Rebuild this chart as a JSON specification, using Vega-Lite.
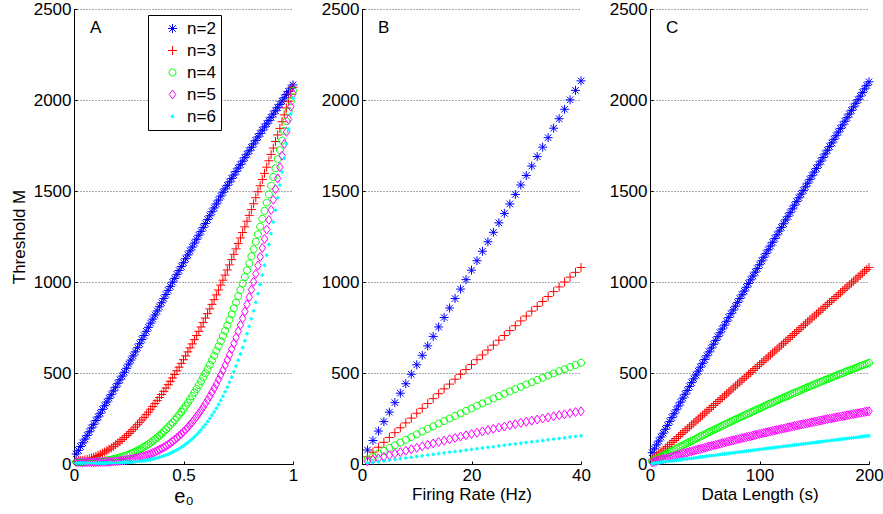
{"$schema":"https://vega.github.io/schema/vega-lite/v6.json",
"padding":{"left":10,"top":0,"right":0,"bottom":0},
"bounds":"flush",
"spacing":69,
"config":{
"font":"Liberation Sans",
"view":{"stroke":null},
"axis":{"labelFontSize":17,"titleFontSize":17,"titleFontWeight":"normal","labelColor":"#000","titleColor":"#000","domainColor":"#000","tickColor":"#000","tickSize":-3,"labelPadding":6,"gridColor":"#555","gridDash":[1,2],"labelFlush":false},
"axisX":{"grid":false,"labelPadding":6,"titlePadding":3},
"axisY":{"grid":true,"titlePadding":5,"format":"d"},
"title":{"fontSize":17,"fontWeight":"normal","color":"#000","anchor":"start","frame":"group","offset":0,"baseline":"alphabetic","dx":16,"dy":41},
"point":{"filled":false,"strokeWidth":1,"opacity":1,"size":100},
"legend":{"symbolSize":100}
},
"datasets":{
"a":[
{"n":2,"x":0.01,"y":55},{"n":2,"x":0.02,"y":75},{"n":2,"x":0.03,"y":96},{"n":2,"x":0.04,"y":116},{"n":2,"x":0.05,"y":137},{"n":2,"x":0.06,"y":157},{"n":2,"x":0.07,"y":177},{"n":2,"x":0.08,"y":198},{"n":2,"x":0.09,"y":218},{"n":2,"x":0.1,"y":239},
{"n":2,"x":0.11,"y":259},{"n":2,"x":0.12,"y":279},{"n":2,"x":0.13,"y":300},{"n":2,"x":0.14,"y":320},{"n":2,"x":0.15,"y":341},{"n":2,"x":0.16,"y":361},{"n":2,"x":0.17,"y":381},{"n":2,"x":0.18,"y":402},{"n":2,"x":0.19,"y":422},{"n":2,"x":0.2,"y":443},
{"n":2,"x":0.21,"y":463},{"n":2,"x":0.22,"y":483},{"n":2,"x":0.23,"y":504},{"n":2,"x":0.24,"y":526},{"n":2,"x":0.25,"y":549},{"n":2,"x":0.26,"y":571},{"n":2,"x":0.27,"y":594},{"n":2,"x":0.28,"y":616},{"n":2,"x":0.29,"y":639},{"n":2,"x":0.3,"y":661},
{"n":2,"x":0.31,"y":684},{"n":2,"x":0.32,"y":706},{"n":2,"x":0.33,"y":729},{"n":2,"x":0.34,"y":751},{"n":2,"x":0.35,"y":774},{"n":2,"x":0.36,"y":796},{"n":2,"x":0.37,"y":819},{"n":2,"x":0.38,"y":841},{"n":2,"x":0.39,"y":864},{"n":2,"x":0.4,"y":886},
{"n":2,"x":0.41,"y":909},{"n":2,"x":0.42,"y":931},{"n":2,"x":0.43,"y":954},{"n":2,"x":0.44,"y":976},{"n":2,"x":0.45,"y":999},{"n":2,"x":0.46,"y":1020},{"n":2,"x":0.47,"y":1042},{"n":2,"x":0.48,"y":1063},{"n":2,"x":0.49,"y":1085},{"n":2,"x":0.5,"y":1106},
{"n":2,"x":0.51,"y":1128},{"n":2,"x":0.52,"y":1149},{"n":2,"x":0.53,"y":1171},{"n":2,"x":0.54,"y":1192},{"n":2,"x":0.55,"y":1214},{"n":2,"x":0.56,"y":1235},{"n":2,"x":0.57,"y":1257},{"n":2,"x":0.58,"y":1278},{"n":2,"x":0.59,"y":1300},{"n":2,"x":0.6,"y":1321},
{"n":2,"x":0.61,"y":1343},{"n":2,"x":0.62,"y":1364},{"n":2,"x":0.63,"y":1386},{"n":2,"x":0.64,"y":1407},{"n":2,"x":0.65,"y":1429},{"n":2,"x":0.66,"y":1450},{"n":2,"x":0.67,"y":1472},{"n":2,"x":0.68,"y":1493},{"n":2,"x":0.69,"y":1512},{"n":2,"x":0.7,"y":1531},
{"n":2,"x":0.71,"y":1550},{"n":2,"x":0.72,"y":1569},{"n":2,"x":0.73,"y":1588},{"n":2,"x":0.74,"y":1607},{"n":2,"x":0.75,"y":1626},{"n":2,"x":0.76,"y":1645},{"n":2,"x":0.77,"y":1664},{"n":2,"x":0.78,"y":1683},{"n":2,"x":0.79,"y":1702},{"n":2,"x":0.8,"y":1721},
{"n":2,"x":0.81,"y":1740},{"n":2,"x":0.82,"y":1759},{"n":2,"x":0.83,"y":1778},{"n":2,"x":0.84,"y":1797},{"n":2,"x":0.85,"y":1816},{"n":2,"x":0.86,"y":1834},{"n":2,"x":0.87,"y":1852},{"n":2,"x":0.88,"y":1869},{"n":2,"x":0.89,"y":1887},{"n":2,"x":0.9,"y":1905},
{"n":2,"x":0.91,"y":1923},{"n":2,"x":0.92,"y":1941},{"n":2,"x":0.93,"y":1958},{"n":2,"x":0.94,"y":1976},{"n":2,"x":0.95,"y":1994},{"n":2,"x":0.96,"y":2012},{"n":2,"x":0.97,"y":2030},{"n":2,"x":0.98,"y":2047},{"n":2,"x":0.99,"y":2065},{"n":2,"x":1,"y":2083},
{"n":3,"x":0.01,"y":15},{"n":3,"x":0.02,"y":16},{"n":3,"x":0.03,"y":18},{"n":3,"x":0.04,"y":20},{"n":3,"x":0.05,"y":22},{"n":3,"x":0.06,"y":25},{"n":3,"x":0.07,"y":29},{"n":3,"x":0.08,"y":33},{"n":3,"x":0.09,"y":37},{"n":3,"x":0.1,"y":42},
{"n":3,"x":0.11,"y":47},{"n":3,"x":0.12,"y":53},{"n":3,"x":0.13,"y":59},{"n":3,"x":0.14,"y":66},{"n":3,"x":0.15,"y":73},{"n":3,"x":0.16,"y":81},{"n":3,"x":0.17,"y":88},{"n":3,"x":0.18,"y":97},{"n":3,"x":0.19,"y":106},{"n":3,"x":0.2,"y":115},
{"n":3,"x":0.21,"y":124},{"n":3,"x":0.22,"y":134},{"n":3,"x":0.23,"y":145},{"n":3,"x":0.24,"y":156},{"n":3,"x":0.25,"y":167},{"n":3,"x":0.26,"y":178},{"n":3,"x":0.27,"y":190},{"n":3,"x":0.28,"y":203},{"n":3,"x":0.29,"y":216},{"n":3,"x":0.3,"y":229},
{"n":3,"x":0.31,"y":242},{"n":3,"x":0.32,"y":256},{"n":3,"x":0.33,"y":271},{"n":3,"x":0.34,"y":285},{"n":3,"x":0.35,"y":301},{"n":3,"x":0.36,"y":316},{"n":3,"x":0.37,"y":332},{"n":3,"x":0.38,"y":348},{"n":3,"x":0.39,"y":365},{"n":3,"x":0.4,"y":382},
{"n":3,"x":0.41,"y":399},{"n":3,"x":0.42,"y":417},{"n":3,"x":0.43,"y":436},{"n":3,"x":0.44,"y":454},{"n":3,"x":0.45,"y":473},{"n":3,"x":0.46,"y":492},{"n":3,"x":0.47,"y":512},{"n":3,"x":0.48,"y":532},{"n":3,"x":0.49,"y":553},{"n":3,"x":0.5,"y":573},
{"n":3,"x":0.51,"y":594},{"n":3,"x":0.52,"y":616},{"n":3,"x":0.53,"y":638},{"n":3,"x":0.54,"y":660},{"n":3,"x":0.55,"y":683},{"n":3,"x":0.56,"y":706},{"n":3,"x":0.57,"y":729},{"n":3,"x":0.58,"y":753},{"n":3,"x":0.59,"y":777},{"n":3,"x":0.6,"y":802},
{"n":3,"x":0.61,"y":826},{"n":3,"x":0.62,"y":852},{"n":3,"x":0.63,"y":877},{"n":3,"x":0.64,"y":903},{"n":3,"x":0.65,"y":929},{"n":3,"x":0.66,"y":956},{"n":3,"x":0.67,"y":983},{"n":3,"x":0.68,"y":1010},{"n":3,"x":0.69,"y":1038},{"n":3,"x":0.7,"y":1066},
{"n":3,"x":0.71,"y":1094},{"n":3,"x":0.72,"y":1123},{"n":3,"x":0.73,"y":1152},{"n":3,"x":0.74,"y":1182},{"n":3,"x":0.75,"y":1212},{"n":3,"x":0.76,"y":1242},{"n":3,"x":0.77,"y":1272},{"n":3,"x":0.78,"y":1303},{"n":3,"x":0.79,"y":1334},{"n":3,"x":0.8,"y":1366},
{"n":3,"x":0.81,"y":1398},{"n":3,"x":0.82,"y":1430},{"n":3,"x":0.83,"y":1463},{"n":3,"x":0.84,"y":1496},{"n":3,"x":0.85,"y":1529},{"n":3,"x":0.86,"y":1563},{"n":3,"x":0.87,"y":1597},{"n":3,"x":0.88,"y":1631},{"n":3,"x":0.89,"y":1666},{"n":3,"x":0.9,"y":1701},
{"n":3,"x":0.91,"y":1736},{"n":3,"x":0.92,"y":1772},{"n":3,"x":0.93,"y":1808},{"n":3,"x":0.94,"y":1844},{"n":3,"x":0.95,"y":1881},{"n":3,"x":0.96,"y":1918},{"n":3,"x":0.97,"y":1956},{"n":3,"x":0.98,"y":1993},{"n":3,"x":0.99,"y":2032},{"n":3,"x":1,"y":2070},
{"n":4,"x":0.01,"y":10},{"n":4,"x":0.02,"y":10},{"n":4,"x":0.03,"y":10},{"n":4,"x":0.04,"y":10},{"n":4,"x":0.05,"y":10},{"n":4,"x":0.06,"y":11},{"n":4,"x":0.07,"y":11},{"n":4,"x":0.08,"y":12},{"n":4,"x":0.09,"y":12},{"n":4,"x":0.1,"y":13},
{"n":4,"x":0.11,"y":14},{"n":4,"x":0.12,"y":15},{"n":4,"x":0.13,"y":17},{"n":4,"x":0.14,"y":18},{"n":4,"x":0.15,"y":20},{"n":4,"x":0.16,"y":22},{"n":4,"x":0.17,"y":24},{"n":4,"x":0.18,"y":27},{"n":4,"x":0.19,"y":30},{"n":4,"x":0.2,"y":33},
{"n":4,"x":0.21,"y":36},{"n":4,"x":0.22,"y":39},{"n":4,"x":0.23,"y":43},{"n":4,"x":0.24,"y":48},{"n":4,"x":0.25,"y":52},{"n":4,"x":0.26,"y":57},{"n":4,"x":0.27,"y":62},{"n":4,"x":0.28,"y":68},{"n":4,"x":0.29,"y":74},{"n":4,"x":0.3,"y":80},
{"n":4,"x":0.31,"y":87},{"n":4,"x":0.32,"y":94},{"n":4,"x":0.33,"y":102},{"n":4,"x":0.34,"y":109},{"n":4,"x":0.35,"y":118},{"n":4,"x":0.36,"y":127},{"n":4,"x":0.37,"y":136},{"n":4,"x":0.38,"y":146},{"n":4,"x":0.39,"y":156},{"n":4,"x":0.4,"y":167},
{"n":4,"x":0.41,"y":178},{"n":4,"x":0.42,"y":190},{"n":4,"x":0.43,"y":202},{"n":4,"x":0.44,"y":215},{"n":4,"x":0.45,"y":228},{"n":4,"x":0.46,"y":242},{"n":4,"x":0.47,"y":256},{"n":4,"x":0.48,"y":271},{"n":4,"x":0.49,"y":287},{"n":4,"x":0.5,"y":303},
{"n":4,"x":0.51,"y":320},{"n":4,"x":0.52,"y":337},{"n":4,"x":0.53,"y":355},{"n":4,"x":0.54,"y":373},{"n":4,"x":0.55,"y":393},{"n":4,"x":0.56,"y":412},{"n":4,"x":0.57,"y":433},{"n":4,"x":0.58,"y":454},{"n":4,"x":0.59,"y":476},{"n":4,"x":0.6,"y":498},
{"n":4,"x":0.61,"y":521},{"n":4,"x":0.62,"y":545},{"n":4,"x":0.63,"y":569},{"n":4,"x":0.64,"y":595},{"n":4,"x":0.65,"y":621},{"n":4,"x":0.66,"y":647},{"n":4,"x":0.67,"y":675},{"n":4,"x":0.68,"y":703},{"n":4,"x":0.69,"y":732},{"n":4,"x":0.7,"y":761},
{"n":4,"x":0.71,"y":792},{"n":4,"x":0.72,"y":823},{"n":4,"x":0.73,"y":855},{"n":4,"x":0.74,"y":888},{"n":4,"x":0.75,"y":922},{"n":4,"x":0.76,"y":956},{"n":4,"x":0.77,"y":991},{"n":4,"x":0.78,"y":1027},{"n":4,"x":0.79,"y":1064},{"n":4,"x":0.8,"y":1102},
{"n":4,"x":0.81,"y":1141},{"n":4,"x":0.82,"y":1180},{"n":4,"x":0.83,"y":1221},{"n":4,"x":0.84,"y":1262},{"n":4,"x":0.85,"y":1304},{"n":4,"x":0.86,"y":1347},{"n":4,"x":0.87,"y":1391},{"n":4,"x":0.88,"y":1436},{"n":4,"x":0.89,"y":1482},{"n":4,"x":0.9,"y":1529},
{"n":4,"x":0.91,"y":1577},{"n":4,"x":0.92,"y":1625},{"n":4,"x":0.93,"y":1675},{"n":4,"x":0.94,"y":1725},{"n":4,"x":0.95,"y":1777},{"n":4,"x":0.96,"y":1830},{"n":4,"x":0.97,"y":1883},{"n":4,"x":0.98,"y":1938},{"n":4,"x":0.99,"y":1993},{"n":4,"x":1,"y":2050},
{"n":5,"x":0.01,"y":10},{"n":5,"x":0.02,"y":10},{"n":5,"x":0.03,"y":10},{"n":5,"x":0.04,"y":10},{"n":5,"x":0.05,"y":10},{"n":5,"x":0.06,"y":10},{"n":5,"x":0.07,"y":10},{"n":5,"x":0.08,"y":10},{"n":5,"x":0.09,"y":10},{"n":5,"x":0.1,"y":10},
{"n":5,"x":0.11,"y":11},{"n":5,"x":0.12,"y":11},{"n":5,"x":0.13,"y":11},{"n":5,"x":0.14,"y":12},{"n":5,"x":0.15,"y":12},{"n":5,"x":0.16,"y":13},{"n":5,"x":0.17,"y":13},{"n":5,"x":0.18,"y":14},{"n":5,"x":0.19,"y":15},{"n":5,"x":0.2,"y":16},
{"n":5,"x":0.21,"y":17},{"n":5,"x":0.22,"y":19},{"n":5,"x":0.23,"y":20},{"n":5,"x":0.24,"y":22},{"n":5,"x":0.25,"y":24},{"n":5,"x":0.26,"y":26},{"n":5,"x":0.27,"y":28},{"n":5,"x":0.28,"y":31},{"n":5,"x":0.29,"y":34},{"n":5,"x":0.3,"y":37},
{"n":5,"x":0.31,"y":40},{"n":5,"x":0.32,"y":43},{"n":5,"x":0.33,"y":47},{"n":5,"x":0.34,"y":52},{"n":5,"x":0.35,"y":56},{"n":5,"x":0.36,"y":61},{"n":5,"x":0.37,"y":66},{"n":5,"x":0.38,"y":72},{"n":5,"x":0.39,"y":78},{"n":5,"x":0.4,"y":85},
{"n":5,"x":0.41,"y":92},{"n":5,"x":0.42,"y":99},{"n":5,"x":0.43,"y":107},{"n":5,"x":0.44,"y":115},{"n":5,"x":0.45,"y":124},{"n":5,"x":0.46,"y":134},{"n":5,"x":0.47,"y":144},{"n":5,"x":0.48,"y":154},{"n":5,"x":0.49,"y":165},{"n":5,"x":0.5,"y":177},
{"n":5,"x":0.51,"y":189},{"n":5,"x":0.52,"y":202},{"n":5,"x":0.53,"y":216},{"n":5,"x":0.54,"y":230},{"n":5,"x":0.55,"y":245},{"n":5,"x":0.56,"y":261},{"n":5,"x":0.57,"y":278},{"n":5,"x":0.58,"y":295},{"n":5,"x":0.59,"y":313},{"n":5,"x":0.6,"y":332},
{"n":5,"x":0.61,"y":352},{"n":5,"x":0.62,"y":372},{"n":5,"x":0.63,"y":394},{"n":5,"x":0.64,"y":416},{"n":5,"x":0.65,"y":439},{"n":5,"x":0.66,"y":464},{"n":5,"x":0.67,"y":489},{"n":5,"x":0.68,"y":515},{"n":5,"x":0.69,"y":542},{"n":5,"x":0.7,"y":571},
{"n":5,"x":0.71,"y":600},{"n":5,"x":0.72,"y":631},{"n":5,"x":0.73,"y":662},{"n":5,"x":0.74,"y":695},{"n":5,"x":0.75,"y":729},{"n":5,"x":0.76,"y":764},{"n":5,"x":0.77,"y":800},{"n":5,"x":0.78,"y":838},{"n":5,"x":0.79,"y":877},{"n":5,"x":0.8,"y":917},
{"n":5,"x":0.81,"y":958},{"n":5,"x":0.82,"y":1001},{"n":5,"x":0.83,"y":1045},{"n":5,"x":0.84,"y":1091},{"n":5,"x":0.85,"y":1138},{"n":5,"x":0.86,"y":1187},{"n":5,"x":0.87,"y":1237},{"n":5,"x":0.88,"y":1288},{"n":5,"x":0.89,"y":1341},{"n":5,"x":0.9,"y":1396},
{"n":5,"x":0.91,"y":1452},{"n":5,"x":0.92,"y":1510},{"n":5,"x":0.93,"y":1569},{"n":5,"x":0.94,"y":1631},{"n":5,"x":0.95,"y":1694},{"n":5,"x":0.96,"y":1758},{"n":5,"x":0.97,"y":1825},{"n":5,"x":0.98,"y":1893},{"n":5,"x":0.99,"y":1963},{"n":5,"x":1,"y":2035},
{"n":6,"x":0.01,"y":5},{"n":6,"x":0.02,"y":5},{"n":6,"x":0.03,"y":5},{"n":6,"x":0.04,"y":5},{"n":6,"x":0.05,"y":5},{"n":6,"x":0.06,"y":5},{"n":6,"x":0.07,"y":5},{"n":6,"x":0.08,"y":5},{"n":6,"x":0.09,"y":5},{"n":6,"x":0.1,"y":5},
{"n":6,"x":0.11,"y":5},{"n":6,"x":0.12,"y":5},{"n":6,"x":0.13,"y":5},{"n":6,"x":0.14,"y":5},{"n":6,"x":0.15,"y":5},{"n":6,"x":0.16,"y":6},{"n":6,"x":0.17,"y":6},{"n":6,"x":0.18,"y":6},{"n":6,"x":0.19,"y":6},{"n":6,"x":0.2,"y":7},
{"n":6,"x":0.21,"y":7},{"n":6,"x":0.22,"y":8},{"n":6,"x":0.23,"y":8},{"n":6,"x":0.24,"y":9},{"n":6,"x":0.25,"y":9},{"n":6,"x":0.26,"y":10},{"n":6,"x":0.27,"y":11},{"n":6,"x":0.28,"y":12},{"n":6,"x":0.29,"y":14},{"n":6,"x":0.3,"y":15},
{"n":6,"x":0.31,"y":17},{"n":6,"x":0.32,"y":18},{"n":6,"x":0.33,"y":20},{"n":6,"x":0.34,"y":22},{"n":6,"x":0.35,"y":25},{"n":6,"x":0.36,"y":27},{"n":6,"x":0.37,"y":30},{"n":6,"x":0.38,"y":33},{"n":6,"x":0.39,"y":37},{"n":6,"x":0.4,"y":41},
{"n":6,"x":0.41,"y":45},{"n":6,"x":0.42,"y":49},{"n":6,"x":0.43,"y":54},{"n":6,"x":0.44,"y":59},{"n":6,"x":0.45,"y":65},{"n":6,"x":0.46,"y":71},{"n":6,"x":0.47,"y":77},{"n":6,"x":0.48,"y":84},{"n":6,"x":0.49,"y":92},{"n":6,"x":0.5,"y":100},
{"n":6,"x":0.51,"y":109},{"n":6,"x":0.52,"y":118},{"n":6,"x":0.53,"y":128},{"n":6,"x":0.54,"y":138},{"n":6,"x":0.55,"y":149},{"n":6,"x":0.56,"y":161},{"n":6,"x":0.57,"y":174},{"n":6,"x":0.58,"y":187},{"n":6,"x":0.59,"y":202},{"n":6,"x":0.6,"y":217},
{"n":6,"x":0.61,"y":233},{"n":6,"x":0.62,"y":250},{"n":6,"x":0.63,"y":268},{"n":6,"x":0.64,"y":286},{"n":6,"x":0.65,"y":306},{"n":6,"x":0.66,"y":327},{"n":6,"x":0.67,"y":349},{"n":6,"x":0.68,"y":372},{"n":6,"x":0.69,"y":397},{"n":6,"x":0.7,"y":422},
{"n":6,"x":0.71,"y":449},{"n":6,"x":0.72,"y":477},{"n":6,"x":0.73,"y":507},{"n":6,"x":0.74,"y":538},{"n":6,"x":0.75,"y":570},{"n":6,"x":0.76,"y":604},{"n":6,"x":0.77,"y":640},{"n":6,"x":0.78,"y":677},{"n":6,"x":0.79,"y":716},{"n":6,"x":0.8,"y":756},
{"n":6,"x":0.81,"y":798},{"n":6,"x":0.82,"y":842},{"n":6,"x":0.83,"y":888},{"n":6,"x":0.84,"y":936},{"n":6,"x":0.85,"y":986},{"n":6,"x":0.86,"y":1038},{"n":6,"x":0.87,"y":1092},{"n":6,"x":0.88,"y":1147},{"n":6,"x":0.89,"y":1206},{"n":6,"x":0.9,"y":1266},
{"n":6,"x":0.91,"y":1329},{"n":6,"x":0.92,"y":1394},{"n":6,"x":0.93,"y":1462},{"n":6,"x":0.94,"y":1532},{"n":6,"x":0.95,"y":1605},{"n":6,"x":0.96,"y":1680},{"n":6,"x":0.97,"y":1759},{"n":6,"x":0.98,"y":1840},{"n":6,"x":0.99,"y":1923},{"n":6,"x":1,"y":2010}
],
"b":[
{"n":2,"x":1,"y":77},{"n":2,"x":2,"y":129},{"n":2,"x":3,"y":181},{"n":2,"x":4,"y":233},{"n":2,"x":5,"y":285},{"n":2,"x":6,"y":337},{"n":2,"x":7,"y":389},{"n":2,"x":8,"y":441},{"n":2,"x":9,"y":493},{"n":2,"x":10,"y":545},
{"n":2,"x":11,"y":597},{"n":2,"x":12,"y":649},{"n":2,"x":13,"y":701},{"n":2,"x":14,"y":753},{"n":2,"x":15,"y":805},{"n":2,"x":16,"y":857},{"n":2,"x":17,"y":909},{"n":2,"x":18,"y":961},{"n":2,"x":19,"y":1013},{"n":2,"x":20,"y":1065},
{"n":2,"x":21,"y":1117},{"n":2,"x":22,"y":1169},{"n":2,"x":23,"y":1221},{"n":2,"x":24,"y":1273},{"n":2,"x":25,"y":1325},{"n":2,"x":26,"y":1377},{"n":2,"x":27,"y":1429},{"n":2,"x":28,"y":1481},{"n":2,"x":29,"y":1533},{"n":2,"x":30,"y":1585},
{"n":2,"x":31,"y":1637},{"n":2,"x":32,"y":1689},{"n":2,"x":33,"y":1741},{"n":2,"x":34,"y":1793},{"n":2,"x":35,"y":1845},{"n":2,"x":36,"y":1897},{"n":2,"x":37,"y":1949},{"n":2,"x":38,"y":2001},{"n":2,"x":39,"y":2053},{"n":2,"x":40,"y":2105},
{"n":3,"x":1,"y":39},{"n":3,"x":2,"y":65},{"n":3,"x":3,"y":92},{"n":3,"x":4,"y":119},{"n":3,"x":5,"y":146},{"n":3,"x":6,"y":172},{"n":3,"x":7,"y":199},{"n":3,"x":8,"y":226},{"n":3,"x":9,"y":252},{"n":3,"x":10,"y":279},
{"n":3,"x":11,"y":306},{"n":3,"x":12,"y":332},{"n":3,"x":13,"y":359},{"n":3,"x":14,"y":386},{"n":3,"x":15,"y":413},{"n":3,"x":16,"y":439},{"n":3,"x":17,"y":466},{"n":3,"x":18,"y":493},{"n":3,"x":19,"y":519},{"n":3,"x":20,"y":546},
{"n":3,"x":21,"y":573},{"n":3,"x":22,"y":599},{"n":3,"x":23,"y":626},{"n":3,"x":24,"y":653},{"n":3,"x":25,"y":680},{"n":3,"x":26,"y":706},{"n":3,"x":27,"y":733},{"n":3,"x":28,"y":760},{"n":3,"x":29,"y":786},{"n":3,"x":30,"y":813},
{"n":3,"x":31,"y":840},{"n":3,"x":32,"y":866},{"n":3,"x":33,"y":893},{"n":3,"x":34,"y":920},{"n":3,"x":35,"y":947},{"n":3,"x":36,"y":973},{"n":3,"x":37,"y":1000},{"n":3,"x":38,"y":1027},{"n":3,"x":39,"y":1053},{"n":3,"x":40,"y":1080},
{"n":4,"x":1,"y":25},{"n":4,"x":2,"y":41},{"n":4,"x":3,"y":57},{"n":4,"x":4,"y":72},{"n":4,"x":5,"y":88},{"n":4,"x":6,"y":103},{"n":4,"x":7,"y":118},{"n":4,"x":8,"y":133},{"n":4,"x":9,"y":148},{"n":4,"x":10,"y":163},
{"n":4,"x":11,"y":178},{"n":4,"x":12,"y":193},{"n":4,"x":13,"y":207},{"n":4,"x":14,"y":222},{"n":4,"x":15,"y":236},{"n":4,"x":16,"y":250},{"n":4,"x":17,"y":264},{"n":4,"x":18,"y":278},{"n":4,"x":19,"y":292},{"n":4,"x":20,"y":306},
{"n":4,"x":21,"y":320},{"n":4,"x":22,"y":333},{"n":4,"x":23,"y":346},{"n":4,"x":24,"y":360},{"n":4,"x":25,"y":373},{"n":4,"x":26,"y":386},{"n":4,"x":27,"y":399},{"n":4,"x":28,"y":412},{"n":4,"x":29,"y":424},{"n":4,"x":30,"y":437},
{"n":4,"x":31,"y":449},{"n":4,"x":32,"y":462},{"n":4,"x":33,"y":474},{"n":4,"x":34,"y":486},{"n":4,"x":35,"y":498},{"n":4,"x":36,"y":510},{"n":4,"x":37,"y":521},{"n":4,"x":38,"y":533},{"n":4,"x":39,"y":544},{"n":4,"x":40,"y":556},
{"n":5,"x":1,"y":14},{"n":5,"x":2,"y":23},{"n":5,"x":3,"y":31},{"n":5,"x":4,"y":40},{"n":5,"x":5,"y":48},{"n":5,"x":6,"y":57},{"n":5,"x":7,"y":65},{"n":5,"x":8,"y":73},{"n":5,"x":9,"y":81},{"n":5,"x":10,"y":89},
{"n":5,"x":11,"y":97},{"n":5,"x":12,"y":105},{"n":5,"x":13,"y":113},{"n":5,"x":14,"y":121},{"n":5,"x":15,"y":128},{"n":5,"x":16,"y":136},{"n":5,"x":17,"y":143},{"n":5,"x":18,"y":151},{"n":5,"x":19,"y":158},{"n":5,"x":20,"y":165},
{"n":5,"x":21,"y":172},{"n":5,"x":22,"y":179},{"n":5,"x":23,"y":186},{"n":5,"x":24,"y":193},{"n":5,"x":25,"y":200},{"n":5,"x":26,"y":206},{"n":5,"x":27,"y":213},{"n":5,"x":28,"y":219},{"n":5,"x":29,"y":226},{"n":5,"x":30,"y":232},
{"n":5,"x":31,"y":238},{"n":5,"x":32,"y":244},{"n":5,"x":33,"y":250},{"n":5,"x":34,"y":256},{"n":5,"x":35,"y":262},{"n":5,"x":36,"y":268},{"n":5,"x":37,"y":273},{"n":5,"x":38,"y":279},{"n":5,"x":39,"y":285},{"n":5,"x":40,"y":290},
{"n":6,"x":1,"y":5},{"n":6,"x":2,"y":9},{"n":6,"x":3,"y":13},{"n":6,"x":4,"y":17},{"n":6,"x":5,"y":21},{"n":6,"x":6,"y":25},{"n":6,"x":7,"y":29},{"n":6,"x":8,"y":33},{"n":6,"x":9,"y":37},{"n":6,"x":10,"y":41},
{"n":6,"x":11,"y":45},{"n":6,"x":12,"y":49},{"n":6,"x":13,"y":53},{"n":6,"x":14,"y":57},{"n":6,"x":15,"y":61},{"n":6,"x":16,"y":65},{"n":6,"x":17,"y":68},{"n":6,"x":18,"y":72},{"n":6,"x":19,"y":76},{"n":6,"x":20,"y":80},
{"n":6,"x":21,"y":84},{"n":6,"x":22,"y":88},{"n":6,"x":23,"y":92},{"n":6,"x":24,"y":95},{"n":6,"x":25,"y":99},{"n":6,"x":26,"y":103},{"n":6,"x":27,"y":107},{"n":6,"x":28,"y":110},{"n":6,"x":29,"y":114},{"n":6,"x":30,"y":118},
{"n":6,"x":31,"y":122},{"n":6,"x":32,"y":125},{"n":6,"x":33,"y":129},{"n":6,"x":34,"y":133},{"n":6,"x":35,"y":137},{"n":6,"x":36,"y":140},{"n":6,"x":37,"y":144},{"n":6,"x":38,"y":148},{"n":6,"x":39,"y":151},{"n":6,"x":40,"y":155}
],
"c":[
{"n":2,"x":2,"y":62},{"n":2,"x":4,"y":83},{"n":2,"x":6,"y":105},{"n":2,"x":8,"y":126},{"n":2,"x":10,"y":148},{"n":2,"x":12,"y":169},{"n":2,"x":14,"y":191},{"n":2,"x":16,"y":212},{"n":2,"x":18,"y":234},{"n":2,"x":20,"y":255},
{"n":2,"x":22,"y":276},{"n":2,"x":24,"y":298},{"n":2,"x":26,"y":319},{"n":2,"x":28,"y":340},{"n":2,"x":30,"y":362},{"n":2,"x":32,"y":383},{"n":2,"x":34,"y":404},{"n":2,"x":36,"y":426},{"n":2,"x":38,"y":447},{"n":2,"x":40,"y":468},
{"n":2,"x":42,"y":489},{"n":2,"x":44,"y":510},{"n":2,"x":46,"y":532},{"n":2,"x":48,"y":553},{"n":2,"x":50,"y":574},{"n":2,"x":52,"y":595},{"n":2,"x":54,"y":616},{"n":2,"x":56,"y":637},{"n":2,"x":58,"y":658},{"n":2,"x":60,"y":679},
{"n":2,"x":62,"y":700},{"n":2,"x":64,"y":721},{"n":2,"x":66,"y":742},{"n":2,"x":68,"y":763},{"n":2,"x":70,"y":784},{"n":2,"x":72,"y":805},{"n":2,"x":74,"y":826},{"n":2,"x":76,"y":846},{"n":2,"x":78,"y":867},{"n":2,"x":80,"y":888},
{"n":2,"x":82,"y":909},{"n":2,"x":84,"y":930},{"n":2,"x":86,"y":950},{"n":2,"x":88,"y":971},{"n":2,"x":90,"y":992},{"n":2,"x":92,"y":1012},{"n":2,"x":94,"y":1033},{"n":2,"x":96,"y":1054},{"n":2,"x":98,"y":1074},{"n":2,"x":100,"y":1095},
{"n":2,"x":102,"y":1116},{"n":2,"x":104,"y":1136},{"n":2,"x":106,"y":1157},{"n":2,"x":108,"y":1177},{"n":2,"x":110,"y":1198},{"n":2,"x":112,"y":1218},{"n":2,"x":114,"y":1239},{"n":2,"x":116,"y":1259},{"n":2,"x":118,"y":1280},{"n":2,"x":120,"y":1300},
{"n":2,"x":122,"y":1320},{"n":2,"x":124,"y":1341},{"n":2,"x":126,"y":1361},{"n":2,"x":128,"y":1381},{"n":2,"x":130,"y":1402},{"n":2,"x":132,"y":1422},{"n":2,"x":134,"y":1442},{"n":2,"x":136,"y":1463},{"n":2,"x":138,"y":1483},{"n":2,"x":140,"y":1503},
{"n":2,"x":142,"y":1523},{"n":2,"x":144,"y":1543},{"n":2,"x":146,"y":1564},{"n":2,"x":148,"y":1584},{"n":2,"x":150,"y":1604},{"n":2,"x":152,"y":1624},{"n":2,"x":154,"y":1644},{"n":2,"x":156,"y":1664},{"n":2,"x":158,"y":1684},{"n":2,"x":160,"y":1704},
{"n":2,"x":162,"y":1724},{"n":2,"x":164,"y":1744},{"n":2,"x":166,"y":1764},{"n":2,"x":168,"y":1784},{"n":2,"x":170,"y":1804},{"n":2,"x":172,"y":1824},{"n":2,"x":174,"y":1844},{"n":2,"x":176,"y":1863},{"n":2,"x":178,"y":1883},{"n":2,"x":180,"y":1903},
{"n":2,"x":182,"y":1923},{"n":2,"x":184,"y":1943},{"n":2,"x":186,"y":1962},{"n":2,"x":188,"y":1982},{"n":2,"x":190,"y":2002},{"n":2,"x":192,"y":2021},{"n":2,"x":194,"y":2041},{"n":2,"x":196,"y":2061},{"n":2,"x":198,"y":2080},{"n":2,"x":200,"y":2100},
{"n":3,"x":2,"y":23},{"n":3,"x":4,"y":33},{"n":3,"x":6,"y":44},{"n":3,"x":8,"y":55},{"n":3,"x":10,"y":65},{"n":3,"x":12,"y":76},{"n":3,"x":14,"y":87},{"n":3,"x":16,"y":97},{"n":3,"x":18,"y":108},{"n":3,"x":20,"y":119},
{"n":3,"x":22,"y":129},{"n":3,"x":24,"y":140},{"n":3,"x":26,"y":151},{"n":3,"x":28,"y":162},{"n":3,"x":30,"y":172},{"n":3,"x":32,"y":183},{"n":3,"x":34,"y":194},{"n":3,"x":36,"y":204},{"n":3,"x":38,"y":215},{"n":3,"x":40,"y":226},
{"n":3,"x":42,"y":236},{"n":3,"x":44,"y":247},{"n":3,"x":46,"y":258},{"n":3,"x":48,"y":268},{"n":3,"x":50,"y":279},{"n":3,"x":52,"y":290},{"n":3,"x":54,"y":300},{"n":3,"x":56,"y":311},{"n":3,"x":58,"y":322},{"n":3,"x":60,"y":332},
{"n":3,"x":62,"y":343},{"n":3,"x":64,"y":354},{"n":3,"x":66,"y":364},{"n":3,"x":68,"y":375},{"n":3,"x":70,"y":386},{"n":3,"x":72,"y":396},{"n":3,"x":74,"y":407},{"n":3,"x":76,"y":418},{"n":3,"x":78,"y":429},{"n":3,"x":80,"y":439},
{"n":3,"x":82,"y":450},{"n":3,"x":84,"y":461},{"n":3,"x":86,"y":471},{"n":3,"x":88,"y":482},{"n":3,"x":90,"y":493},{"n":3,"x":92,"y":503},{"n":3,"x":94,"y":514},{"n":3,"x":96,"y":525},{"n":3,"x":98,"y":535},{"n":3,"x":100,"y":546},
{"n":3,"x":102,"y":557},{"n":3,"x":104,"y":567},{"n":3,"x":106,"y":578},{"n":3,"x":108,"y":589},{"n":3,"x":110,"y":599},{"n":3,"x":112,"y":610},{"n":3,"x":114,"y":621},{"n":3,"x":116,"y":631},{"n":3,"x":118,"y":642},{"n":3,"x":120,"y":653},
{"n":3,"x":122,"y":663},{"n":3,"x":124,"y":674},{"n":3,"x":126,"y":685},{"n":3,"x":128,"y":696},{"n":3,"x":130,"y":706},{"n":3,"x":132,"y":717},{"n":3,"x":134,"y":728},{"n":3,"x":136,"y":738},{"n":3,"x":138,"y":749},{"n":3,"x":140,"y":760},
{"n":3,"x":142,"y":770},{"n":3,"x":144,"y":781},{"n":3,"x":146,"y":792},{"n":3,"x":148,"y":802},{"n":3,"x":150,"y":813},{"n":3,"x":152,"y":824},{"n":3,"x":154,"y":834},{"n":3,"x":156,"y":845},{"n":3,"x":158,"y":856},{"n":3,"x":160,"y":866},
{"n":3,"x":162,"y":877},{"n":3,"x":164,"y":888},{"n":3,"x":166,"y":898},{"n":3,"x":168,"y":909},{"n":3,"x":170,"y":920},{"n":3,"x":172,"y":930},{"n":3,"x":174,"y":941},{"n":3,"x":176,"y":952},{"n":3,"x":178,"y":963},{"n":3,"x":180,"y":973},
{"n":3,"x":182,"y":984},{"n":3,"x":184,"y":995},{"n":3,"x":186,"y":1005},{"n":3,"x":188,"y":1016},{"n":3,"x":190,"y":1027},{"n":3,"x":192,"y":1037},{"n":3,"x":194,"y":1048},{"n":3,"x":196,"y":1059},{"n":3,"x":198,"y":1069},{"n":3,"x":200,"y":1080},
{"n":4,"x":2,"y":15},{"n":4,"x":4,"y":22},{"n":4,"x":6,"y":28},{"n":4,"x":8,"y":34},{"n":4,"x":10,"y":41},{"n":4,"x":12,"y":47},{"n":4,"x":14,"y":53},{"n":4,"x":16,"y":60},{"n":4,"x":18,"y":66},{"n":4,"x":20,"y":72},
{"n":4,"x":22,"y":78},{"n":4,"x":24,"y":85},{"n":4,"x":26,"y":91},{"n":4,"x":28,"y":97},{"n":4,"x":30,"y":103},{"n":4,"x":32,"y":109},{"n":4,"x":34,"y":115},{"n":4,"x":36,"y":121},{"n":4,"x":38,"y":127},{"n":4,"x":40,"y":133},
{"n":4,"x":42,"y":139},{"n":4,"x":44,"y":145},{"n":4,"x":46,"y":151},{"n":4,"x":48,"y":157},{"n":4,"x":50,"y":163},{"n":4,"x":52,"y":169},{"n":4,"x":54,"y":175},{"n":4,"x":56,"y":181},{"n":4,"x":58,"y":187},{"n":4,"x":60,"y":193},
{"n":4,"x":62,"y":199},{"n":4,"x":64,"y":204},{"n":4,"x":66,"y":210},{"n":4,"x":68,"y":216},{"n":4,"x":70,"y":222},{"n":4,"x":72,"y":228},{"n":4,"x":74,"y":233},{"n":4,"x":76,"y":239},{"n":4,"x":78,"y":245},{"n":4,"x":80,"y":250},
{"n":4,"x":82,"y":256},{"n":4,"x":84,"y":262},{"n":4,"x":86,"y":267},{"n":4,"x":88,"y":273},{"n":4,"x":90,"y":278},{"n":4,"x":92,"y":284},{"n":4,"x":94,"y":289},{"n":4,"x":96,"y":295},{"n":4,"x":98,"y":300},{"n":4,"x":100,"y":306},
{"n":4,"x":102,"y":311},{"n":4,"x":104,"y":317},{"n":4,"x":106,"y":322},{"n":4,"x":108,"y":328},{"n":4,"x":110,"y":333},{"n":4,"x":112,"y":338},{"n":4,"x":114,"y":344},{"n":4,"x":116,"y":349},{"n":4,"x":118,"y":354},{"n":4,"x":120,"y":360},
{"n":4,"x":122,"y":365},{"n":4,"x":124,"y":370},{"n":4,"x":126,"y":375},{"n":4,"x":128,"y":381},{"n":4,"x":130,"y":386},{"n":4,"x":132,"y":391},{"n":4,"x":134,"y":396},{"n":4,"x":136,"y":401},{"n":4,"x":138,"y":406},{"n":4,"x":140,"y":412},
{"n":4,"x":142,"y":417},{"n":4,"x":144,"y":422},{"n":4,"x":146,"y":427},{"n":4,"x":148,"y":432},{"n":4,"x":150,"y":437},{"n":4,"x":152,"y":442},{"n":4,"x":154,"y":447},{"n":4,"x":156,"y":452},{"n":4,"x":158,"y":457},{"n":4,"x":160,"y":462},
{"n":4,"x":162,"y":466},{"n":4,"x":164,"y":471},{"n":4,"x":166,"y":476},{"n":4,"x":168,"y":481},{"n":4,"x":170,"y":486},{"n":4,"x":172,"y":491},{"n":4,"x":174,"y":495},{"n":4,"x":176,"y":500},{"n":4,"x":178,"y":505},{"n":4,"x":180,"y":510},
{"n":4,"x":182,"y":514},{"n":4,"x":184,"y":519},{"n":4,"x":186,"y":524},{"n":4,"x":188,"y":528},{"n":4,"x":190,"y":533},{"n":4,"x":192,"y":538},{"n":4,"x":194,"y":542},{"n":4,"x":196,"y":547},{"n":4,"x":198,"y":551},{"n":4,"x":200,"y":556},
{"n":5,"x":2,"y":9},{"n":5,"x":4,"y":12},{"n":5,"x":6,"y":16},{"n":5,"x":8,"y":19},{"n":5,"x":10,"y":23},{"n":5,"x":12,"y":26},{"n":5,"x":14,"y":30},{"n":5,"x":16,"y":33},{"n":5,"x":18,"y":37},{"n":5,"x":20,"y":40},
{"n":5,"x":22,"y":43},{"n":5,"x":24,"y":47},{"n":5,"x":26,"y":50},{"n":5,"x":28,"y":53},{"n":5,"x":30,"y":57},{"n":5,"x":32,"y":60},{"n":5,"x":34,"y":63},{"n":5,"x":36,"y":67},{"n":5,"x":38,"y":70},{"n":5,"x":40,"y":73},
{"n":5,"x":42,"y":77},{"n":5,"x":44,"y":80},{"n":5,"x":46,"y":83},{"n":5,"x":48,"y":86},{"n":5,"x":50,"y":89},{"n":5,"x":52,"y":93},{"n":5,"x":54,"y":96},{"n":5,"x":56,"y":99},{"n":5,"x":58,"y":102},{"n":5,"x":60,"y":105},
{"n":5,"x":62,"y":108},{"n":5,"x":64,"y":111},{"n":5,"x":66,"y":115},{"n":5,"x":68,"y":118},{"n":5,"x":70,"y":121},{"n":5,"x":72,"y":124},{"n":5,"x":74,"y":127},{"n":5,"x":76,"y":130},{"n":5,"x":78,"y":133},{"n":5,"x":80,"y":136},
{"n":5,"x":82,"y":139},{"n":5,"x":84,"y":142},{"n":5,"x":86,"y":145},{"n":5,"x":88,"y":148},{"n":5,"x":90,"y":151},{"n":5,"x":92,"y":153},{"n":5,"x":94,"y":156},{"n":5,"x":96,"y":159},{"n":5,"x":98,"y":162},{"n":5,"x":100,"y":165},
{"n":5,"x":102,"y":168},{"n":5,"x":104,"y":171},{"n":5,"x":106,"y":173},{"n":5,"x":108,"y":176},{"n":5,"x":110,"y":179},{"n":5,"x":112,"y":182},{"n":5,"x":114,"y":185},{"n":5,"x":116,"y":187},{"n":5,"x":118,"y":190},{"n":5,"x":120,"y":193},
{"n":5,"x":122,"y":195},{"n":5,"x":124,"y":198},{"n":5,"x":126,"y":201},{"n":5,"x":128,"y":203},{"n":5,"x":130,"y":206},{"n":5,"x":132,"y":209},{"n":5,"x":134,"y":211},{"n":5,"x":136,"y":214},{"n":5,"x":138,"y":217},{"n":5,"x":140,"y":219},
{"n":5,"x":142,"y":222},{"n":5,"x":144,"y":224},{"n":5,"x":146,"y":227},{"n":5,"x":148,"y":229},{"n":5,"x":150,"y":232},{"n":5,"x":152,"y":234},{"n":5,"x":154,"y":237},{"n":5,"x":156,"y":239},{"n":5,"x":158,"y":242},{"n":5,"x":160,"y":244},
{"n":5,"x":162,"y":247},{"n":5,"x":164,"y":249},{"n":5,"x":166,"y":251},{"n":5,"x":168,"y":254},{"n":5,"x":170,"y":256},{"n":5,"x":172,"y":259},{"n":5,"x":174,"y":261},{"n":5,"x":176,"y":263},{"n":5,"x":178,"y":265},{"n":5,"x":180,"y":268},
{"n":5,"x":182,"y":270},{"n":5,"x":184,"y":272},{"n":5,"x":186,"y":275},{"n":5,"x":188,"y":277},{"n":5,"x":190,"y":279},{"n":5,"x":192,"y":281},{"n":5,"x":194,"y":283},{"n":5,"x":196,"y":286},{"n":5,"x":198,"y":288},{"n":5,"x":200,"y":290},
{"n":6,"x":2,"y":3},{"n":6,"x":4,"y":4},{"n":6,"x":6,"y":6},{"n":6,"x":8,"y":7},{"n":6,"x":10,"y":9},{"n":6,"x":12,"y":11},{"n":6,"x":14,"y":12},{"n":6,"x":16,"y":14},{"n":6,"x":18,"y":16},{"n":6,"x":20,"y":17},
{"n":6,"x":22,"y":19},{"n":6,"x":24,"y":20},{"n":6,"x":26,"y":22},{"n":6,"x":28,"y":24},{"n":6,"x":30,"y":25},{"n":6,"x":32,"y":27},{"n":6,"x":34,"y":28},{"n":6,"x":36,"y":30},{"n":6,"x":38,"y":31},{"n":6,"x":40,"y":33},
{"n":6,"x":42,"y":35},{"n":6,"x":44,"y":36},{"n":6,"x":46,"y":38},{"n":6,"x":48,"y":39},{"n":6,"x":50,"y":41},{"n":6,"x":52,"y":43},{"n":6,"x":54,"y":44},{"n":6,"x":56,"y":46},{"n":6,"x":58,"y":47},{"n":6,"x":60,"y":49},
{"n":6,"x":62,"y":50},{"n":6,"x":64,"y":52},{"n":6,"x":66,"y":54},{"n":6,"x":68,"y":55},{"n":6,"x":70,"y":57},{"n":6,"x":72,"y":58},{"n":6,"x":74,"y":60},{"n":6,"x":76,"y":61},{"n":6,"x":78,"y":63},{"n":6,"x":80,"y":65},
{"n":6,"x":82,"y":66},{"n":6,"x":84,"y":68},{"n":6,"x":86,"y":69},{"n":6,"x":88,"y":71},{"n":6,"x":90,"y":72},{"n":6,"x":92,"y":74},{"n":6,"x":94,"y":75},{"n":6,"x":96,"y":77},{"n":6,"x":98,"y":78},{"n":6,"x":100,"y":80},
{"n":6,"x":102,"y":82},{"n":6,"x":104,"y":83},{"n":6,"x":106,"y":85},{"n":6,"x":108,"y":86},{"n":6,"x":110,"y":88},{"n":6,"x":112,"y":89},{"n":6,"x":114,"y":91},{"n":6,"x":116,"y":92},{"n":6,"x":118,"y":94},{"n":6,"x":120,"y":95},
{"n":6,"x":122,"y":97},{"n":6,"x":124,"y":98},{"n":6,"x":126,"y":100},{"n":6,"x":128,"y":101},{"n":6,"x":130,"y":103},{"n":6,"x":132,"y":104},{"n":6,"x":134,"y":106},{"n":6,"x":136,"y":107},{"n":6,"x":138,"y":109},{"n":6,"x":140,"y":110},
{"n":6,"x":142,"y":112},{"n":6,"x":144,"y":113},{"n":6,"x":146,"y":115},{"n":6,"x":148,"y":116},{"n":6,"x":150,"y":118},{"n":6,"x":152,"y":119},{"n":6,"x":154,"y":121},{"n":6,"x":156,"y":122},{"n":6,"x":158,"y":124},{"n":6,"x":160,"y":125},
{"n":6,"x":162,"y":127},{"n":6,"x":164,"y":128},{"n":6,"x":166,"y":130},{"n":6,"x":168,"y":131},{"n":6,"x":170,"y":133},{"n":6,"x":172,"y":134},{"n":6,"x":174,"y":136},{"n":6,"x":176,"y":137},{"n":6,"x":178,"y":139},{"n":6,"x":180,"y":140},
{"n":6,"x":182,"y":142},{"n":6,"x":184,"y":143},{"n":6,"x":186,"y":145},{"n":6,"x":188,"y":146},{"n":6,"x":190,"y":148},{"n":6,"x":192,"y":149},{"n":6,"x":194,"y":151},{"n":6,"x":196,"y":152},{"n":6,"x":198,"y":154},{"n":6,"x":200,"y":155}
]
},
"resolve":{"scale":{"color":"independent","shape":"independent"}},
"hconcat":[
{"width":219,"height":455,"data":{"name":"a"},
"title":{"text":"A"},
"mark":{"type":"point","filled":false},
"encoding":{
"x":{"field":"x","type":"quantitative","scale":{"domain":[0,1],"nice":false},"axis":{"values":[0,0.5,1],"labelExpr":"''+datum.value","title":"e₀","titleFontSize":20,"titlePadding":3}},
"y":{"field":"y","type":"quantitative","scale":{"domain":[0,2500],"nice":false},"axis":{"values":[0,500,1000,1500,2000,2500],"title":"Threshold M"}},
"color":{"field":"n","type":"nominal","scale":{"domain":[2,3,4,5,6],"range":["#0000ff","#ff0000","#00ff00","#ff00ff","#00ffff"]},
"legend":{"orient":"none","legendX":74,"legendY":6,"title":null,"strokeColor":"#000","fillColor":"#fff","padding":5,"labelFontSize":17,"labelColor":"#000","symbolOffset":11,"labelOffset":6,"rowPadding":4,"symbolStrokeWidth":1,"symbolFillColor":"transparent","labelExpr":"'n=' + datum.label"}},
"shape":{"field":"n","type":"nominal","scale":{"domain":[2,3,4,5,6],"range":["M-0.9,0L0.9,0M0,-0.9L0,0.9M-0.65,-0.65L0.65,0.65M-0.65,0.65L0.65,-0.65","M-0.9,0L0.9,0M0,-0.9L0,0.9","M0.7,0A0.7,0.7,0,1,1,-0.7,0A0.7,0.7,0,1,1,0.7,0Z","M0,-0.9L0.65,0L0,0.9L-0.65,0Z","M-0.35,0L0.35,0M0,-0.35L0,0.35M0.25,0A0.25,0.25,0,1,1,-0.25,0A0.25,0.25,0,1,1,0.25,0Z"]}}
}},
{"width":219,"height":455,"data":{"name":"b"},
"title":{"text":"B"},
"mark":{"type":"point","filled":false},
"encoding":{
"x":{"field":"x","type":"quantitative","scale":{"domain":[0,40],"nice":false},"axis":{"values":[0,20,40],"title":"Firing Rate (Hz)"}},
"y":{"field":"y","type":"quantitative","scale":{"domain":[0,2500],"nice":false},"axis":{"values":[0,500,1000,1500,2000,2500],"title":null}},
"color":{"field":"n","type":"nominal","scale":{"domain":[2,3,4,5,6],"range":["#0000ff","#ff0000","#00ff00","#ff00ff","#00ffff"]},"legend":null},
"shape":{"field":"n","type":"nominal","scale":{"domain":[2,3,4,5,6],"range":["M-0.9,0L0.9,0M0,-0.9L0,0.9M-0.65,-0.65L0.65,0.65M-0.65,0.65L0.65,-0.65","M-0.9,0L0.9,0M0,-0.9L0,0.9","M0.7,0A0.7,0.7,0,1,1,-0.7,0A0.7,0.7,0,1,1,0.7,0Z","M0,-0.9L0.65,0L0,0.9L-0.65,0Z","M-0.35,0L0.35,0M0,-0.35L0,0.35M0.25,0A0.25,0.25,0,1,1,-0.25,0A0.25,0.25,0,1,1,0.25,0Z"]},"legend":null}
}},
{"width":219,"height":455,"data":{"name":"c"},
"title":{"text":"C"},
"mark":{"type":"point","filled":false},
"encoding":{
"x":{"field":"x","type":"quantitative","scale":{"domain":[0,200],"nice":false},"axis":{"values":[0,100,200],"title":"Data Length (s)"}},
"y":{"field":"y","type":"quantitative","scale":{"domain":[0,2500],"nice":false},"axis":{"values":[0,500,1000,1500,2000,2500],"title":null}},
"color":{"field":"n","type":"nominal","scale":{"domain":[2,3,4,5,6],"range":["#0000ff","#ff0000","#00ff00","#ff00ff","#00ffff"]},"legend":null},
"shape":{"field":"n","type":"nominal","scale":{"domain":[2,3,4,5,6],"range":["M-0.9,0L0.9,0M0,-0.9L0,0.9M-0.65,-0.65L0.65,0.65M-0.65,0.65L0.65,-0.65","M-0.9,0L0.9,0M0,-0.9L0,0.9","M0.7,0A0.7,0.7,0,1,1,-0.7,0A0.7,0.7,0,1,1,0.7,0Z","M0,-0.9L0.65,0L0,0.9L-0.65,0Z","M-0.35,0L0.35,0M0,-0.35L0,0.35M0.25,0A0.25,0.25,0,1,1,-0.25,0A0.25,0.25,0,1,1,0.25,0Z"]},"legend":null}
}}
]
}
